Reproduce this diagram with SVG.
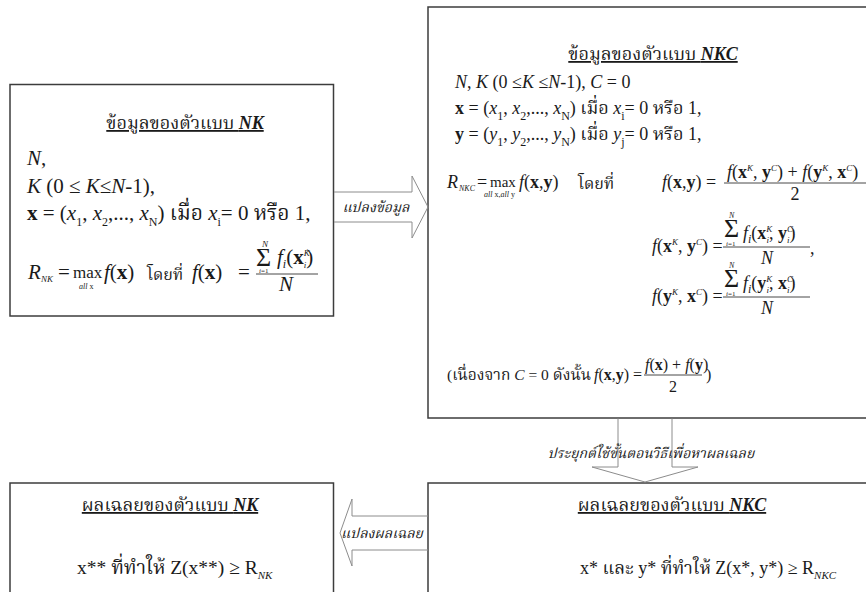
<svg xmlns="http://www.w3.org/2000/svg" width="866" height="592" viewBox="0 0 866 592" font-size="18">
<style>
.box{fill:#fff;stroke:#3c3c3c;stroke-width:1.5}
.arr{fill:none;stroke:#8c8c8c;stroke-width:1}
.bar{stroke:#1a1a1a;stroke-width:0.8}
text{font-family:'Liberation Serif','Noto Serif Thai','Noto Sans Thai','Noto Sans',serif;fill:#1a1a1a}
.L{font-size:21px}
.i{font-style:italic}
.b{font-weight:bold}
.u{text-decoration:underline}
.s{font-size:12px}
.sm{font-size:9px}
.lab{font-style:italic;font-size:14px}
.ti{font-size:18px;text-decoration:underline}
</style>
<rect width="866" height="592" fill="#fff"/>

<g id="nk-data">
<rect class="box" x="10" y="84.5" width="323.5" height="231.5"/>
<text x="185" y="129" text-anchor="middle" class="ti">ข้อมูลของตัวแบบ <tspan class="i b">NK</tspan></text>
<text x="27" y="165" class="L"><tspan class="i">N</tspan>,</text>
<text x="27" y="193" class="L"><tspan class="i">K</tspan> (0 ≤ <tspan class="i">K</tspan>≤<tspan class="i">N</tspan>-1),</text>
<text x="27" y="220" class="L"><tspan class="b">x</tspan> = (<tspan class="i">x</tspan><tspan class="s" dy="6">1</tspan><tspan dy="-6">, </tspan><tspan class="i">x</tspan><tspan class="s" dy="6">2</tspan><tspan dy="-6">,..., </tspan><tspan class="i">x</tspan><tspan class="s" dy="6">N</tspan><tspan dy="-6">) เมื่อ </tspan><tspan class="i">x</tspan><tspan class="s" dy="6">i</tspan><tspan dy="-6">= 0 หรือ 1,</tspan></text>
<text x="28" y="279" class="i L">R</text>
<text x="41" y="282" class="i" font-size="9">NK</text>
<text x="58" y="279" class="L">=</text>
<text x="73" y="278" font-size="17">max</text>
<text x="79" y="289" font-size="8"><tspan class="i">all</tspan> x</text>
<text x="104" y="279" class="L"><tspan class="i">f</tspan>(<tspan class="b">x</tspan>)</text>
<text x="147" y="280" font-size="16">โดยที่</text>
<text x="192" y="279" class="L"><tspan class="i">f</tspan>(<tspan class="b">x</tspan>)</text>
<text x="238" y="279" class="L">=</text>
<text x="256" y="266" font-size="26">Σ</text>
<text x="262" y="247" class="i sm">N</text>
<text x="259" y="272.5" font-size="7"><tspan class="i">i</tspan>=1</text>
<text x="277" y="264" class="L"><tspan class="i">f</tspan><tspan class="s i" dy="4">i</tspan><tspan dy="-4">(</tspan><tspan class="b">x</tspan><tspan class="sm i" dy="-8">K</tspan><tspan class="sm i" dx="-6" dy="12">i</tspan><tspan dy="-4">)</tspan></text>
<line class="bar" x1="256" y1="274" x2="318" y2="274"/>
<text x="286" y="291" text-anchor="middle" class="i L">N</text>
</g>

<g id="nkc-data">
<rect class="box" x="428" y="7" width="450" height="411"/>
<text x="653" y="60" text-anchor="middle" class="ti">ข้อมูลของตัวแบบ <tspan class="i b">NKC</tspan></text>
<text x="455" y="88"><tspan class="i">N</tspan>, <tspan class="i">K</tspan>  (0 ≤<tspan class="i">K</tspan> ≤<tspan class="i">N</tspan>-1), <tspan class="i">C</tspan> = 0</text>
<text x="455" y="114"><tspan class="b">x</tspan> = (<tspan class="i">x</tspan><tspan class="s" dy="6">1</tspan><tspan dy="-6">, </tspan><tspan class="i">x</tspan><tspan class="s" dy="6">2</tspan><tspan dy="-6">,..., </tspan><tspan class="i">x</tspan><tspan class="s" dy="6">N</tspan><tspan dy="-6">) เมื่อ </tspan><tspan class="i">x</tspan><tspan class="s" dy="6">i</tspan><tspan dy="-6">= 0 หรือ 1,</tspan></text>
<text x="455" y="140"><tspan class="b">y</tspan> = (<tspan class="i">y</tspan><tspan class="s" dy="6">1</tspan><tspan dy="-6">, </tspan><tspan class="i">y</tspan><tspan class="s" dy="6">2</tspan><tspan dy="-6">,..., </tspan><tspan class="i">y</tspan><tspan class="s" dy="6">N</tspan><tspan dy="-6">) เมื่อ </tspan><tspan class="i">y</tspan><tspan class="s" dy="6">j</tspan><tspan dy="-6">= 0 หรือ 1,</tspan></text>

<text x="447" y="188" class="i">R</text>
<text x="459" y="191" class="i" font-size="8">NKC</text>
<text x="477" y="188">=</text>
<text x="490" y="187" font-size="15">max</text>
<text x="484" y="197" font-size="8"><tspan class="i">all</tspan> x,<tspan class="i">all</tspan> y</text>
<text x="519" y="188"><tspan class="i">f</tspan>(<tspan class="b">x</tspan>,<tspan class="b">y</tspan>)</text>
<text x="578" y="189" font-size="16">โดยที่</text>
<text x="662" y="188"><tspan class="i">f</tspan>(<tspan class="b">x</tspan>,<tspan class="b">y</tspan>) =</text>
<text x="727" y="178"><tspan class="i">f</tspan>(<tspan class="b">x</tspan><tspan class="sm i" dy="-7">K</tspan><tspan dy="7">, </tspan><tspan class="b">y</tspan><tspan class="sm i" dy="-7">C</tspan><tspan dy="7">) + </tspan><tspan class="i">f</tspan>(<tspan class="b">y</tspan><tspan class="sm i" dy="-7">K</tspan><tspan dy="7">, </tspan><tspan class="b">x</tspan><tspan class="sm i" dy="-7">C</tspan><tspan dy="7">)</tspan></text>
<line class="bar" x1="724" y1="183" x2="866" y2="183"/>
<text x="795" y="200" text-anchor="middle">2</text>

<text x="652" y="252"><tspan class="i">f</tspan>(<tspan class="b">x</tspan><tspan class="sm i" dy="-7">K</tspan><tspan dy="7">, </tspan><tspan class="b">y</tspan><tspan class="sm i" dy="-7">C</tspan><tspan dy="7">) =</tspan></text>
<text x="724" y="237" font-size="26">Σ</text>
<text x="729" y="218" class="i" font-size="8">N</text>
<text x="726" y="245.5" font-size="7"><tspan class="i">i</tspan>=1</text>
<text x="743" y="239"><tspan class="i">f</tspan><tspan class="s i" dy="4">i</tspan><tspan dy="-4">(</tspan><tspan class="b">x</tspan><tspan class="sm i" dy="-7">K</tspan><tspan class="sm i" dx="-6" dy="11">i</tspan><tspan dy="-4">, </tspan><tspan class="b">y</tspan><tspan class="sm i" dy="-7">C</tspan><tspan class="sm i" dx="-6" dy="11">i</tspan><tspan dy="-4">)</tspan></text>
<line class="bar" x1="723" y1="247" x2="810" y2="247"/>
<text x="767" y="264" text-anchor="middle" class="i">N</text>
<text x="810" y="254">,</text>

<text x="652" y="302"><tspan class="i">f</tspan>(<tspan class="b">y</tspan><tspan class="sm i" dy="-7">K</tspan><tspan dy="7">, </tspan><tspan class="b">x</tspan><tspan class="sm i" dy="-7">C</tspan><tspan dy="7">) =</tspan></text>
<text x="724" y="287" font-size="26">Σ</text>
<text x="729" y="268" class="i" font-size="8">N</text>
<text x="726" y="295.5" font-size="7"><tspan class="i">i</tspan>=1</text>
<text x="743" y="289"><tspan class="i">f</tspan><tspan class="s i" dy="4">i</tspan><tspan dy="-4">(</tspan><tspan class="b">y</tspan><tspan class="sm i" dy="-7">K</tspan><tspan class="sm i" dx="-6" dy="11">i</tspan><tspan dy="-4">, </tspan><tspan class="b">x</tspan><tspan class="sm i" dy="-7">C</tspan><tspan class="sm i" dx="-6" dy="11">i</tspan><tspan dy="-4">)</tspan></text>
<line class="bar" x1="723" y1="297" x2="810" y2="297"/>
<text x="767" y="314" text-anchor="middle" class="i">N</text>

<text x="447" y="380" font-size="15.5">(เนื่องจาก <tspan class="i">C</tspan> = 0  ดังนั้น</text>
<text x="594" y="380" font-size="16"><tspan class="i">f</tspan>(<tspan class="b">x</tspan>,<tspan class="b">y</tspan>) =</text>
<text x="645" y="370" font-size="16"><tspan class="i">f</tspan>(<tspan class="b">x</tspan>) + <tspan class="i">f</tspan>(<tspan class="b">y</tspan>)</text>
<line class="bar" x1="644" y1="375" x2="702" y2="375"/>
<text x="673" y="392" text-anchor="middle" font-size="16">2</text>
<text x="706" y="380" font-size="16">)</text>
</g>

<g id="nk-solution">
<rect class="box" x="10" y="483" width="323.5" height="130"/>
<text x="170" y="511" text-anchor="middle" class="ti">ผลเฉลยของตัวแบบ <tspan class="i b">NK</tspan></text>
<text x="77" y="574" font-size="19.5">x** ที่ทำให้ Z(x**) ≥  R<tspan class="i" font-size="11" dy="5">NK</tspan></text>
</g>

<g id="nkc-solution">
<rect class="box" x="428" y="483" width="450" height="130"/>
<text x="672" y="511" text-anchor="middle" class="ti">ผลเฉลยของตัวแบบ <tspan class="i b">NKC</tspan></text>
<text x="580" y="574">x* และ y* ที่ทำให้ Z(x*, y*) ≥  R<tspan class="i" font-size="11" dy="5">NKC</tspan></text>
</g>

<g id="connectors">
<path class="arr" d="M334,192 H412 V176 L428,207 L412,238 V222 H334"/>
<text class="lab" x="376" y="212" text-anchor="middle">แปลงข้อมูล</text>
<path class="arr" d="M618,418.5 V467 H592 L645,482 L698,467 H672 V418.5"/>
<text class="lab" x="651" y="458" text-anchor="middle">ประยุกต์ใช้ขั้นตอนวิธีเพื่อหาผลเฉลย</text>
<path class="arr" d="M428,516 H352 V499 L340,533 L352,566 V550 H428"/>
<text class="lab" x="382" y="538" text-anchor="middle">แปลงผลเฉลย</text>
</g>
</svg>
